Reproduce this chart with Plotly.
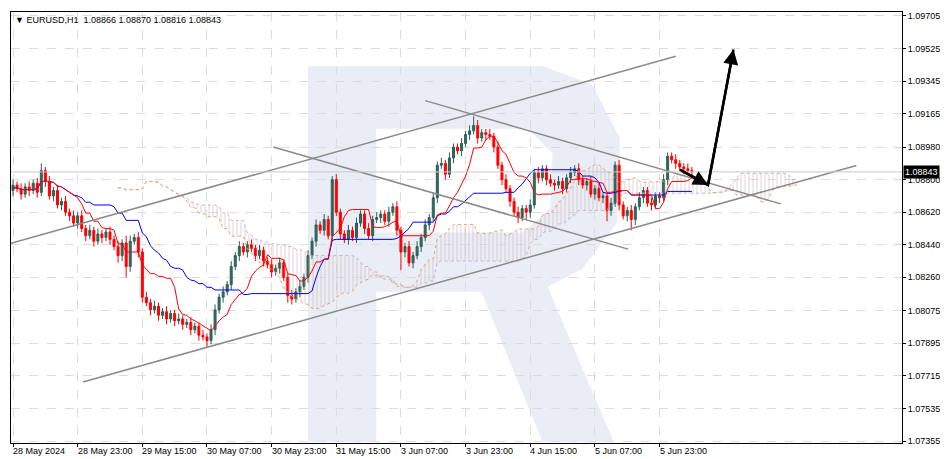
import plotly.graph_objects as go
import pandas as pd

# EURUSD H1 closes (one per bar, bar 0 = 28 May 2024 07:00)
closes = [1.0877, 1.0875, 1.0872, 1.0876, 1.0874, 1.0878, 1.0873, 1.0885, 1.0879, 1.0871,
          1.0874, 1.0866, 1.0868, 1.0862, 1.0860, 1.0856, 1.0860, 1.0853, 1.0849, 1.0852,
          1.0846, 1.0850, 1.0848, 1.0851, 1.0847, 1.0843, 1.0838, 1.0845, 1.0832, 1.0846,
          1.0848, 1.0840, 1.0815, 1.0812, 1.0808, 1.0810, 1.0805, 1.0807, 1.0803, 1.0806,
          1.0802, 1.0803, 1.0800, 1.0801, 1.0797, 1.0799, 1.0794, 1.0793, 1.0791, 1.0797,
          1.0808, 1.0815, 1.0818, 1.0822, 1.0832, 1.0838, 1.0843, 1.0840, 1.0844, 1.0842,
          1.0838, 1.0841, 1.0835, 1.0833, 1.0829, 1.0831, 1.0834, 1.0826, 1.0816, 1.0814,
          1.0818, 1.0821, 1.0826, 1.0838, 1.0846, 1.0855, 1.0852, 1.0858, 1.0849, 1.0880,
          1.0862, 1.0850, 1.0847, 1.0852, 1.0848, 1.0856, 1.0861, 1.0853, 1.0849, 1.0858,
          1.0859, 1.0861, 1.0857, 1.0862, 1.0865, 1.0852, 1.0840, 1.0843, 1.0834, 1.0838,
          1.0843, 1.0848, 1.0855, 1.0859, 1.0870, 1.0888, 1.0889, 1.0883, 1.0892, 1.0898,
          1.0896, 1.0900, 1.0905, 1.0907, 1.0910, 1.0903, 1.0906, 1.0905, 1.0904, 1.0898,
          1.0888, 1.0880, 1.0875, 1.0868, 1.0862, 1.0859, 1.0864, 1.0862, 1.0866, 1.0884,
          1.0881, 1.0886, 1.0880, 1.0878, 1.0877, 1.0879, 1.0875, 1.0881, 1.0884, 1.0886,
          1.0880, 1.0877, 1.0879, 1.0872, 1.0875, 1.0870, 1.0871, 1.0863, 1.0867, 1.0888,
          1.0866, 1.0860, 1.0863, 1.0858, 1.0865, 1.0870, 1.0874, 1.0867, 1.0866, 1.0871,
          1.0870, 1.0880, 1.0893, 1.0891, 1.0889, 1.0887, 1.0886, 1.0885, 1.08843]
first_open = 1.0874

# wick lengths in pips (upper / lower), estimated per bar
upper_wick = [3, 2, 3, 2, 3, 2, 3, 4, 2, 3, 2, 3, 2, 3, 2, 3, 2, 3, 2, 3,
              2, 3, 2, 2, 3, 2, 3, 2, 4, 3, 2, 3, 2, 3, 2, 3, 2, 2, 3, 2,
              2, 3, 2, 2, 3, 2, 2, 3, 2, 3, 3, 2, 3, 2, 3, 2, 3, 2, 2, 3,
              2, 3, 2, 2, 3, 2, 3, 2, 2, 3, 2, 3, 2, 3, 2, 3, 2, 3, 2, 2,
              3, 2, 2, 3, 2, 3, 2, 2, 3, 2, 3, 2, 2, 3, 2, 3, 2, 2, 3, 2,
              3, 2, 3, 2, 3, 2, 3, 2, 3, 2, 2, 3, 2, 3, 5, 3, 2, 2, 3, 2,
              3, 2, 3, 2, 2, 3, 2, 2, 3, 2, 3, 2, 2, 3, 2, 3, 2, 2, 3, 2,
              3, 2, 2, 3, 2, 3, 2, 2, 3, 2, 3, 2, 2, 3, 2, 3, 2, 2, 3, 2,
              2, 3, 2, 2, 3, 2, 2, 3, 2]
lower_wick = [3, 2, 3, 2, 3, 2, 3, 2, 3, 2, 3, 2, 3, 2, 3, 2, 3, 2, 3, 2,
              3, 2, 3, 2, 3, 2, 4, 3, 6, 3, 2, 3, 3, 2, 3, 2, 3, 2, 3, 2,
              3, 2, 3, 2, 3, 2, 3, 2, 4, 2, 3, 2, 3, 2, 3, 2, 3, 2, 3, 2,
              3, 2, 3, 2, 3, 2, 3, 2, 4, 3, 2, 3, 2, 3, 2, 3, 2, 3, 2, 3,
              2, 3, 2, 3, 2, 3, 2, 3, 2, 3, 2, 3, 2, 3, 2, 3, 10, 3, 2, 3,
              2, 3, 2, 3, 2, 3, 2, 3, 2, 3, 2, 3, 2, 3, 2, 3, 2, 3, 2, 3,
              2, 3, 2, 3, 2, 3, 2, 4, 3, 2, 3, 2, 3, 2, 3, 2, 3, 2, 3, 2,
              3, 2, 3, 2, 3, 2, 3, 6, 3, 2, 3, 2, 3, 6, 3, 2, 3, 2, 3, 2,
              3, 2, 3, 2, 3, 2, 3, 2, 3]

x_labels = ["28 May 2024", "28 May 23:00", "29 May 15:00", "30 May 07:00", "30 May 23:00",
            "31 May 15:00", "3 Jun 07:00", "3 Jun 23:00", "4 Jun 15:00", "5 Jun 07:00",
            "5 Jun 23:00"]
price_ticks = [1.09705, 1.09525, 1.09345, 1.09165, 1.08980, 1.08800, 1.08620, 1.08440,
               1.08260, 1.08075, 1.07895, 1.07715, 1.07535, 1.07355]

# analyst drawings: (bar, price) endpoints
channel_up = [(-0.5, 1.08448), (164, 1.09482)]
channel_low = [(17.3, 1.07681), (208.7, 1.08878)]
desc_1 = [(64.4, 1.08981), (152.2, 1.08416)]
desc_2 = [(102, 1.09237), (190, 1.08666)]
arrow_path = [(165, 1.08856), (172, 1.0877), (178.3, 1.0952)]
last_price = 1.08843

FONT = "Liberation Sans"

n = len(closes)
bars = list(range(n))
opens = [first_open] + closes[:-1]
highs = [max(o, c) + w * 0.0001 for o, c, w in zip(opens, closes, upper_wick)]
lows = [min(o, c) - w * 0.0001 for o, c, w in zip(opens, closes, lower_wick)]

df = pd.DataFrame({"o": opens, "h": highs, "l": lows, "c": closes})
tenkan = (df.h.rolling(9, min_periods=1).max() + df.l.rolling(9, min_periods=1).min()) / 2
kijun = (df.h.rolling(26, min_periods=1).max() + df.l.rolling(26, min_periods=1).min()) / 2
span_a = (tenkan + kijun) / 2
span_b = (df.h.rolling(52, min_periods=1).max() + df.l.rolling(52, min_periods=1).min()) / 2
shift_x = [b + 26 for b in bars]

fig = go.Figure()

# watermark logo (paper coords, behind everything)
def px(x, y):
    return (x - 3) / 900, 1 - (y - 2) / 436

logo = [(303, 57), (540, 57), (590, 75), (618, 130), (615, 215), (580, 262), (545, 280),
        (612, 437), (540, 437), (478, 285), (372, 285), (372, 437), (303, 437)]
hole = [(372, 120), (372, 225), (520, 225), (548, 200), (550, 145), (525, 120)]
d = "M " + " L ".join(f"{px(*p)[0]:.4f},{px(*p)[1]:.4f}" for p in logo) + " Z "
d += "M " + " L ".join(f"{px(*p)[0]:.4f},{px(*p)[1]:.4f}" for p in hole) + " Z"
fig.add_shape(type="path", path=d, xref="paper", yref="paper", fillcolor="#e9edf5",
              line_width=0, layer="below", fillrule="evenodd")

# ichimoku cloud
fig.add_trace(go.Scatter(x=shift_x, y=span_b, mode="lines",
                         line=dict(color="#c9b0cc", width=1, dash="dot"), hoverinfo="skip"))
fig.add_trace(go.Scatter(x=shift_x, y=span_a, mode="lines", fill="tonexty",
                         fillcolor="rgba(0,0,0,0)",
                         fillpattern=dict(shape="|", fgcolor="#c8a8a8", size=4, solidity=0.25),
                         line=dict(color="#f0a060", width=1, dash="dot"), hoverinfo="skip"))

fig.add_trace(go.Scatter(x=bars, y=kijun, mode="lines", line=dict(color="#0000ff", width=1)))
fig.add_trace(go.Scatter(x=bars, y=tenkan, mode="lines", line=dict(color="#ff0000", width=1)))

fig.add_trace(go.Candlestick(
    x=bars, open=opens, high=highs, low=lows, close=closes,
    increasing=dict(line=dict(color="#2d5e55", width=1), fillcolor="#336b5f"),
    decreasing=dict(line=dict(color="#ff0000", width=1), fillcolor="#ff0000"),
    whiskerwidth=0, hoverinfo="skip"))

for seg in (channel_up, channel_low, desc_1, desc_2):
    fig.add_trace(go.Scatter(x=[p[0] for p in seg], y=[p[1] for p in seg], mode="lines",
                             line=dict(color="#8a8a8a", width=1.5)))

fig.add_trace(go.Scatter(x=[p[0] for p in arrow_path], y=[p[1] for p in arrow_path],
                         mode="lines", line=dict(color="#000000", width=2.5)))
fig.add_annotation(x=arrow_path[1][0], y=arrow_path[1][1], ax=arrow_path[0][0],
                   ay=arrow_path[0][1], xref="x", yref="y", axref="x", ayref="y",
                   showarrow=True, arrowhead=2, arrowsize=1.2, arrowwidth=2.5,
                   arrowcolor="#000000", text="")
fig.add_annotation(x=arrow_path[2][0], y=arrow_path[2][1], ax=arrow_path[1][0],
                   ay=arrow_path[1][1], xref="x", yref="y", axref="x", ayref="y",
                   showarrow=True, arrowhead=2, arrowsize=1.2, arrowwidth=2.5,
                   arrowcolor="#000000", text="")

fig.add_hline(y=last_price, line=dict(color="#c8c8c8", width=1))
fig.add_annotation(x=1, y=last_price, xref="paper", yref="y", xanchor="left", xshift=1,
                   text=f"{last_price:.5f}", showarrow=False, bgcolor="#000000",
                   font=dict(color="#ffffff", size=9, family=FONT), borderpad=1)

tick_bars = [16 * i for i in range(len(x_labels))]
for b, lab in zip(tick_bars, x_labels):
    fig.add_annotation(x=b - 0.5, y=0, xref="x", yref="paper", yshift=-1, yanchor="top",
                       xanchor="left", text=lab, showarrow=False,
                       font=dict(size=9, color="#000000", family=FONT))

fig.add_annotation(x=0, y=1, xref="paper", yref="paper", xanchor="left", yanchor="top",
                   xshift=2, yshift=-1, showarrow=False,
                   text="▼ EURUSD,H1  1.08866 1.08870 1.08816 1.08843",
                   font=dict(size=9, color="#000000", family=FONT))

fig.update_layout(
    width=948, height=459, margin=dict(l=3, r=54, t=4, b=24),
    plot_bgcolor="#ffffff", paper_bgcolor="#ffffff", showlegend=False,
    font=dict(family=FONT, size=9, color="#000000"),
    xaxis=dict(range=[-0.5, 220], tickvals=tick_bars, showticklabels=False,
               showgrid=True, gridcolor="#dcdcdc", griddash="dash", zeroline=False,
               rangeslider=dict(visible=False), showline=True, linecolor="#000000",
               mirror=True, ticks="outside", ticklen=3, tickcolor="#000000"),
    yaxis=dict(range=[1.07344, 1.09727], side="right", tickvals=price_ticks,
               ticktext=[f"{v:.5f}" for v in price_ticks], showgrid=True,
               gridcolor="#dcdcdc", griddash="dash", zeroline=False, showline=True,
               linecolor="#000000", mirror=True, ticks="outside", ticklen=3,
               tickcolor="#000000", tickfont=dict(size=9, family=FONT)),
)

fig.write_html("out.html")
